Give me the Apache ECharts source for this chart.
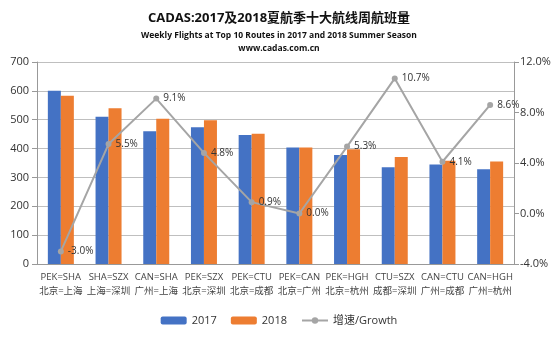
<!DOCTYPE html>
<html><head><meta charset="utf-8">
<script src="https://cdn.jsdelivr.net/npm/echarts@6/dist/echarts.min.js"></script>
<style>html,body{margin:0;padding:0;background:#fff}#c{width:558px;height:340px}</style>
</head><body><div id="c"></div>
<script>
var routesCode = ['PEK=SHA','SHA=SZX','CAN=SHA','PEK=SZX','PEK=CTU','PEK=CAN','PEK=HGH','CTU=SZX','CAN=CTU','CAN=HGH'];
var routesCN = ['北京=上海','上海=深圳','广州=上海','北京=深圳','北京=成都','北京=广州','北京=杭州','成都=深圳','广州=成都','广州=杭州'];
var flights2017 = [600, 510, 460, 474, 447, 404, 378, 335, 345, 328];
var flights2018 = [583, 540, 503, 498, 451, 404, 398, 371, 358, 355];
var growth = [-3.0, 5.5, 9.1, 4.8, 0.9, 0.0, 5.3, 10.7, 4.1, 8.6];
var leftTicks = {min: 0, max: 700, interval: 100};
var rightTicks = {min: -4, max: 12, interval: 4};

var cats = routesCode.map(function(c, i){ return c + '\n' + routesCN[i]; });
var font = '"Open Sans","Noto Sans CJK SC",sans-serif';
var chart = echarts.init(document.getElementById('c'));
chart.setOption({
  animation: false,
  textStyle: {fontFamily: font},
  title: [
    {text: 'CADAS:2017及2018夏航季十大航线周航班量', left: 'center', top: 7,
     textStyle: {fontSize: 13, fontWeight: 'bold', color: '#111', fontFamily: font}},
    {text: 'Weekly Flights at Top 10 Routes in 2017 and 2018 Summer Season', left: 'center', top: 26,
     textStyle: {fontSize: 8.5, fontWeight: 'bold', color: '#111', fontFamily: font}},
    {text: 'www.cadas.com.cn', left: 'center', top: 39,
     textStyle: {fontSize: 8.5, fontWeight: 'bold', color: '#111', fontFamily: font}}
  ],
  legend: {
    bottom: 9, left: 'center', itemWidth: 26, itemHeight: 8, itemGap: 14,
    textStyle: {fontSize: 11, color: '#333'},
    data: [{name: '2017'}, {name: '2018'}, {name: '增速/Growth'}]
  },
  grid: {left: 37, right: 44, top: 62, bottom: 76},
  xAxis: {
    type: 'category', data: cats,
    axisLine: {lineStyle: {color: '#999'}},
    axisTick: {lineStyle: {color: '#999'}},
    axisLabel: {fontSize: 9.5, color: '#444', lineHeight: 14, interval: 0, margin: 6}
  },
  yAxis: [
    {type: 'value', min: leftTicks.min, max: leftTicks.max, interval: leftTicks.interval,
     axisLine: {show: true, lineStyle: {color: '#999'}},
     axisTick: {show: true, lineStyle: {color: '#999'}},
     axisLabel: {fontSize: 11, color: '#333', margin: 8},
     splitLine: {lineStyle: {color: '#bfbfbf'}}},
    {type: 'value', min: rightTicks.min, max: rightTicks.max, interval: rightTicks.interval,
     axisLine: {show: true, lineStyle: {color: '#999'}},
     axisTick: {show: true, lineStyle: {color: '#999'}},
     axisLabel: {fontSize: 11, color: '#333', margin: 6, formatter: function(v){ return v.toFixed(1) + '%'; }},
     splitLine: {show: false}}
  ],
  series: [
    {name: '2017', type: 'bar', data: flights2017, barWidth: 13, barGap: '0%',
     itemStyle: {color: '#4472C4'}},
    {name: '2018', type: 'bar', data: flights2018, barWidth: 13,
     itemStyle: {color: '#ED7D31'}},
    {name: '增速/Growth', type: 'line', yAxisIndex: 1, data: growth,
     symbol: 'circle', symbolSize: 6,
     lineStyle: {color: '#A5A5A5', width: 2}, itemStyle: {color: '#A5A5A5'},
     label: {show: true, position: 'right', distance: 4, fontSize: 10, color: '#333',
       formatter: function(p){ return p.value.toFixed(1) + '%'; }}}
  ]
});
</script></body></html>
